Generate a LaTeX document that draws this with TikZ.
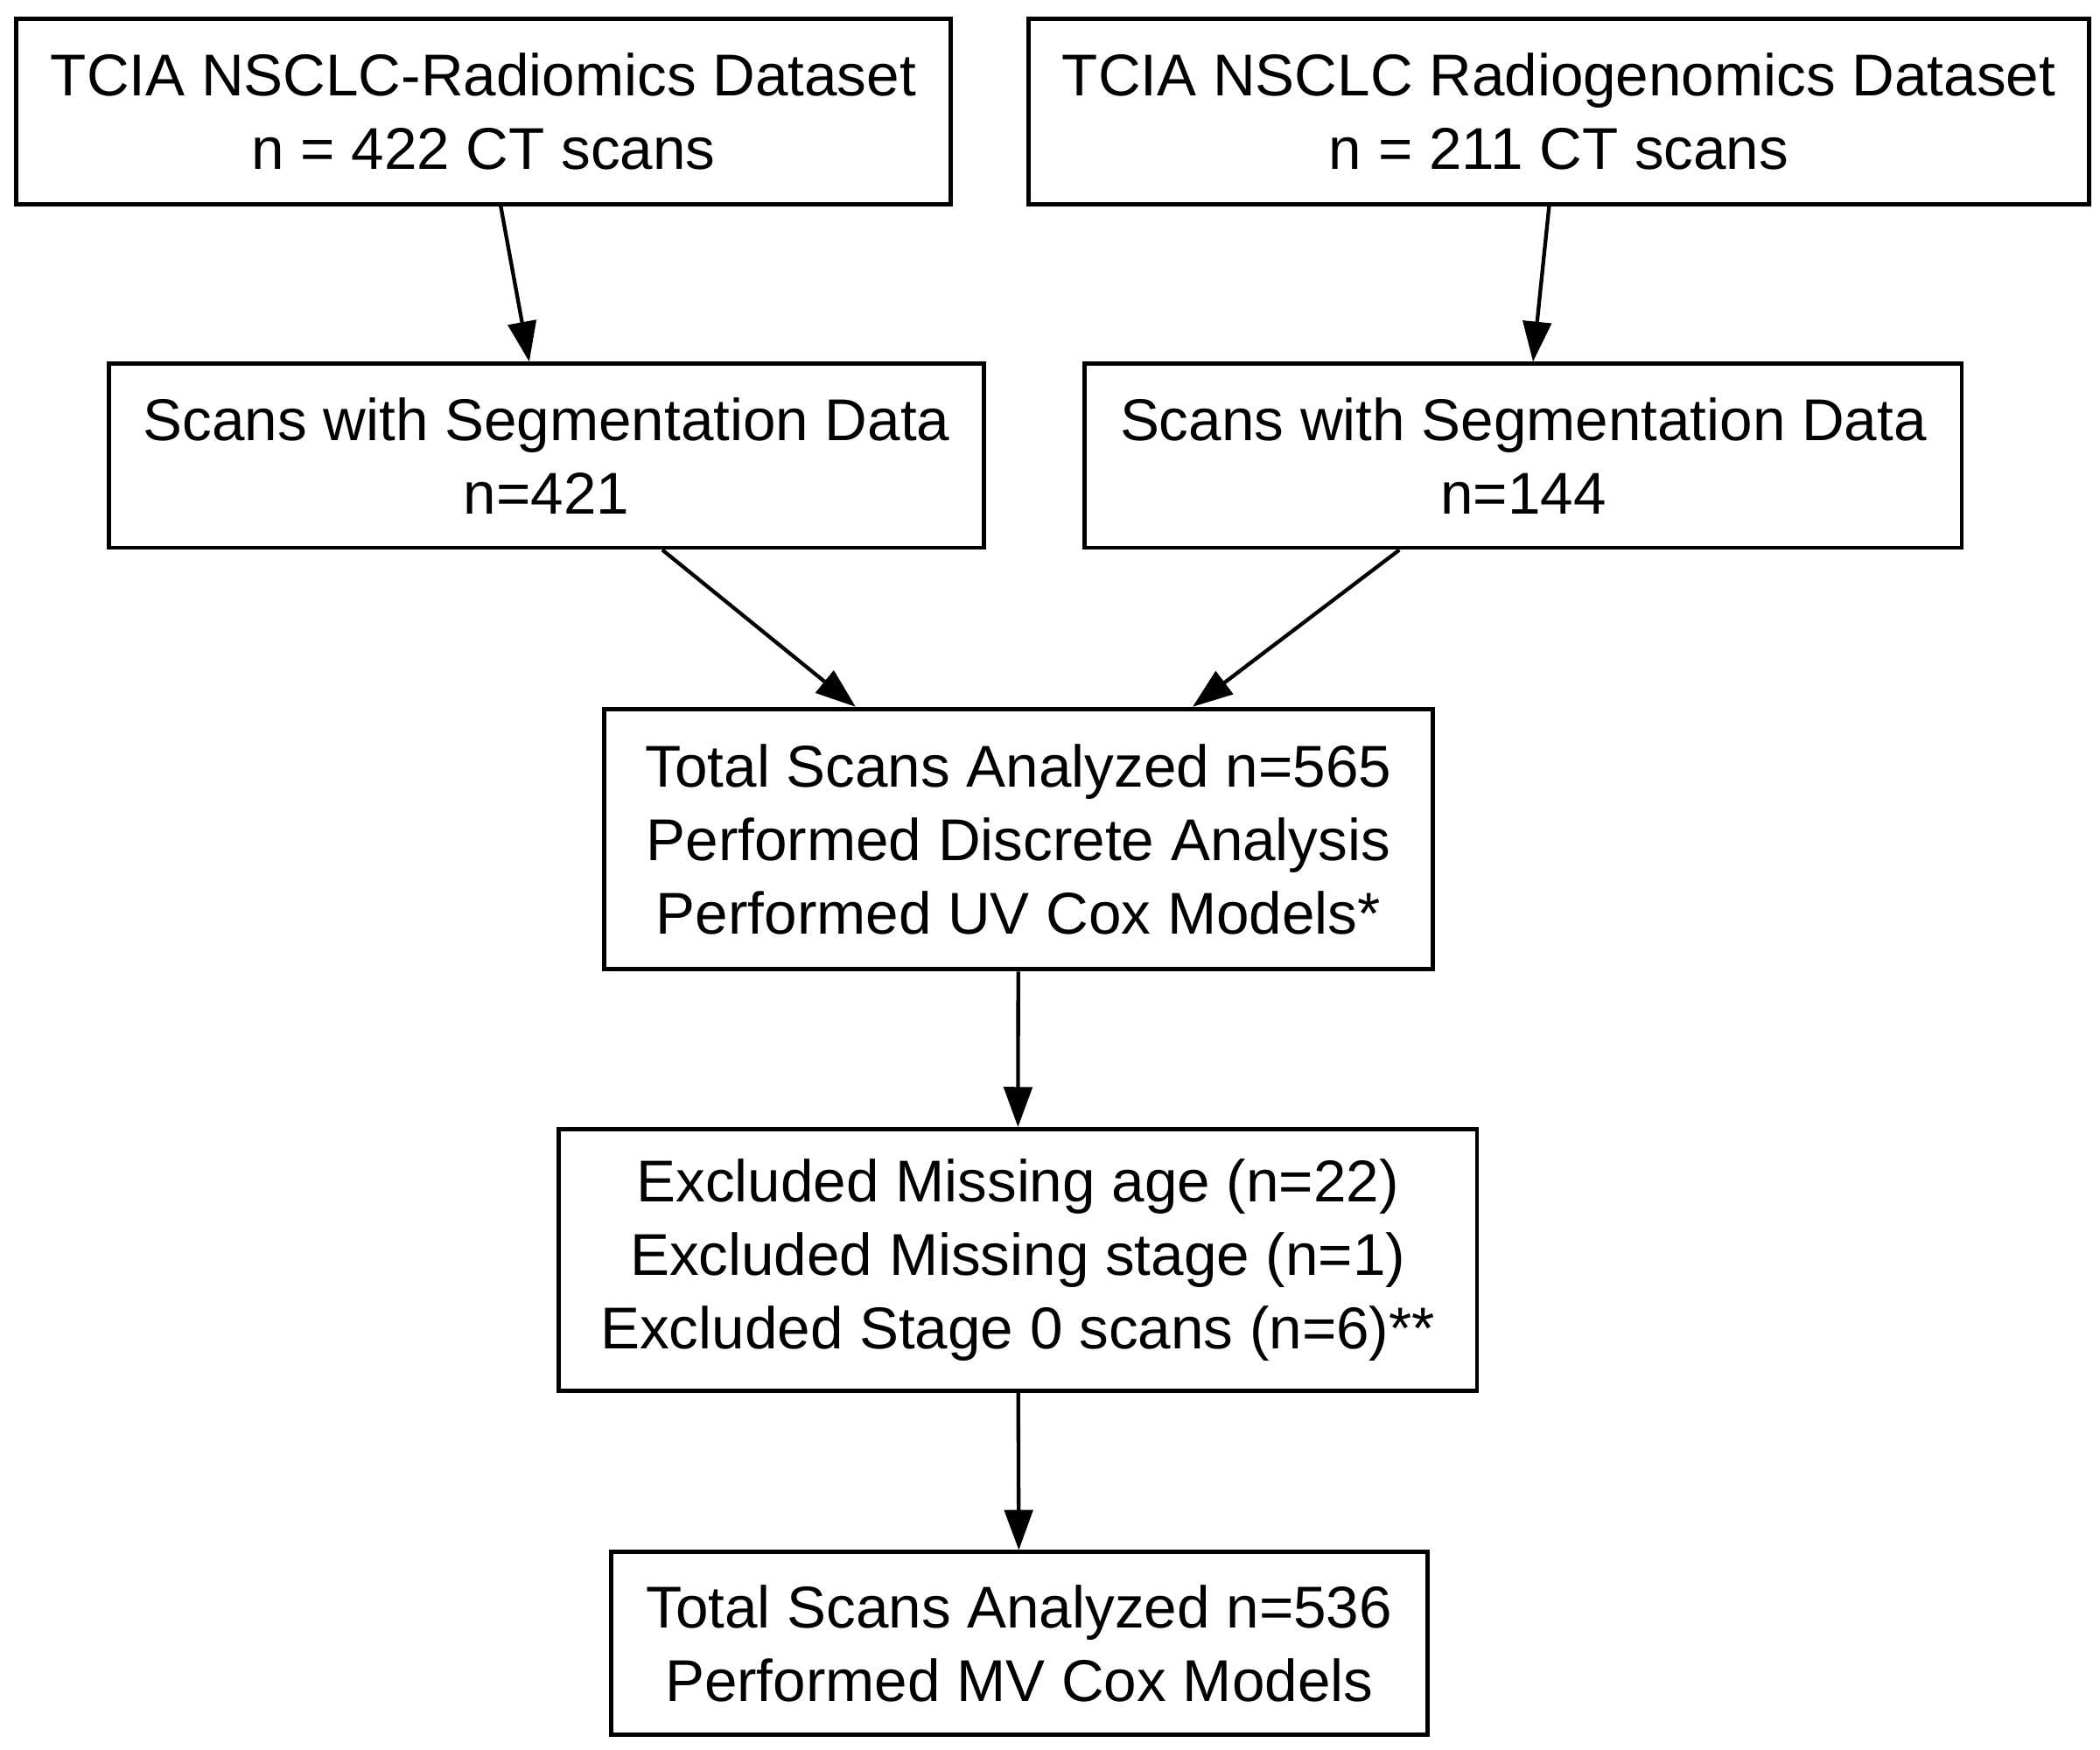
\documentclass[tikz,border=0pt]{standalone}
\usepackage{fontspec}
\setmainfont{Liberation Sans}
\usetikzlibrary{arrows.meta}
\tikzset{
	box/.style={
		draw,
		line width=0.9pt,
		align=center,
		inner sep=0pt,
		font=\fontsize{12.5}{15.6}\selectfont},
	every edge/.style={
		draw,
		-{Triangle[length=8.5pt,width=6pt]},
		line width=0.8pt}
}

\begin{document}
\begin{tikzpicture}
				\useasboundingbox (0,0) rectangle (15.64,-13.03);
				\node[box, minimum width=6.96cm, minimum height=1.38cm] (rad) at (3.60,-0.83) {TCIA NSCLC-Radiomics Dataset\\n = 422 CT scans};
				\node[box, minimum width=7.90cm, minimum height=1.38cm] (gen) at (11.61,-0.83) {TCIA NSCLC Radiogenomics Dataset\\n = 211 CT scans};
				\node[box, minimum width=6.52cm, minimum height=1.37cm] (segrad) at (4.07,-3.395) {Scans with Segmentation Data\\n=421};
				\node[box, minimum width=6.53cm, minimum height=1.37cm] (seggen) at (11.345,-3.395) {Scans with Segmentation Data\\n=144};
				\node[box, minimum width=6.17cm, minimum height=1.94cm] (uv) at (7.585,-6.25) {Total Scans Analyzed n=565\\Performed Discrete Analysis\\Performed UV Cox Models*};
				\node[box, minimum width=6.84cm, minimum height=1.95cm] (excl) at (7.58,-9.385) {Excluded Missing age (n=22)\\Excluded Missing stage (n=1)\\Excluded Stage 0 scans (n=6)**};
				\node[box, minimum width=6.08cm, minimum height=1.36cm] (mv) at (7.59,-12.24) {Total Scans Analyzed n=536\\Performed MV Cox Models};
				\draw (rad) edge (segrad);
				\draw (gen) edge (seggen);
				\draw (segrad) edge (uv);
				\draw (seggen) edge (uv);
				\draw (uv) edge (excl);
				\draw (excl) edge (mv);
			\end{tikzpicture}
\end{document}
